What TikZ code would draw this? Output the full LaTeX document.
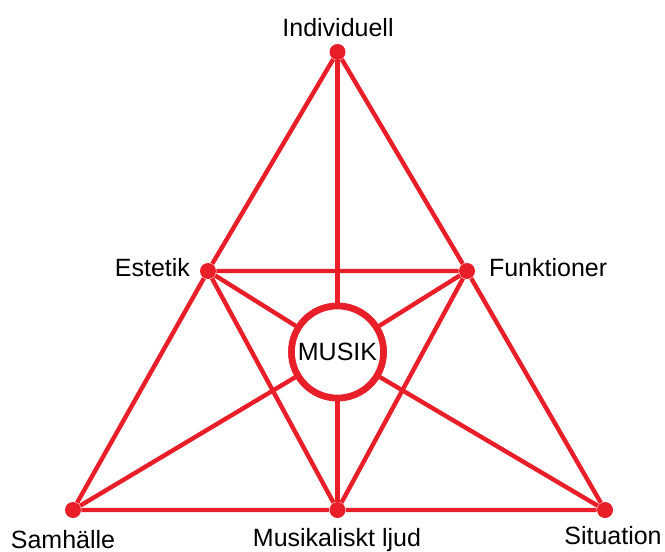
\documentclass[tikz,border=0pt]{standalone}
\usepackage{fontspec}
\setmainfont{Liberation Sans}
\usetikzlibrary{positioning}
\definecolor{linered}{RGB}{232,30,40}

\begin{document}
\begin{tikzpicture}[x=0.5pt,y=-0.5pt,
  every node/.style={font=\fontsize{12.5}{15}\selectfont},
  dot/.style={circle,fill=linered,inner sep=0pt,minimum size=8pt},
  edge/.style={draw=linered,line width=2.2pt},
  hub/.style={circle,draw=linered,line width=3.3pt,fill=white,minimum size=46pt,inner sep=0pt}]
\useasboundingbox (0,0) rectangle (665,552);
\node[dot] (top) at (337.5,52) {};
\node[dot] (sam) at (73,510) {};
\node[dot] (sit) at (605,510) {};
\node[dot] (ljud) at (337.5,510) {};
\node[dot] (est) at (208,271) {};
\node[dot] (fun) at (467,271) {};
\node[hub] (musik) at (337.5,352) {MUSIK};
% outer triangle
\path[edge] (top)--(est)--(sam)--(ljud)--(sit)--(fun)--(top);
% inner triangle
\path[edge] (est)--(fun)--(ljud)--(est);
% spokes to the hub
\path[edge](top)--(musik);\path[edge](musik)--(ljud);
\path[edge](est)--(musik);\path[edge](musik)--(sit);
\path[edge](fun)--(musik);\path[edge](musik)--(sam);
\node[hub] at (musik) {MUSIK};
\node (lbltop) at (338,28) {Individuell};
\node[anchor=east] (lblest) at (197,268) {Estetik};
\node[anchor=west] (lblfun) at (482,268) {Funktioner};
\node (lblsam) at (63,540) {Samhälle};
\node (lblljud) at (337,540) {Musikaliskt ljud};
\node (lblsit) at (613,536) {Situation};
\end{tikzpicture}
\end{document}
